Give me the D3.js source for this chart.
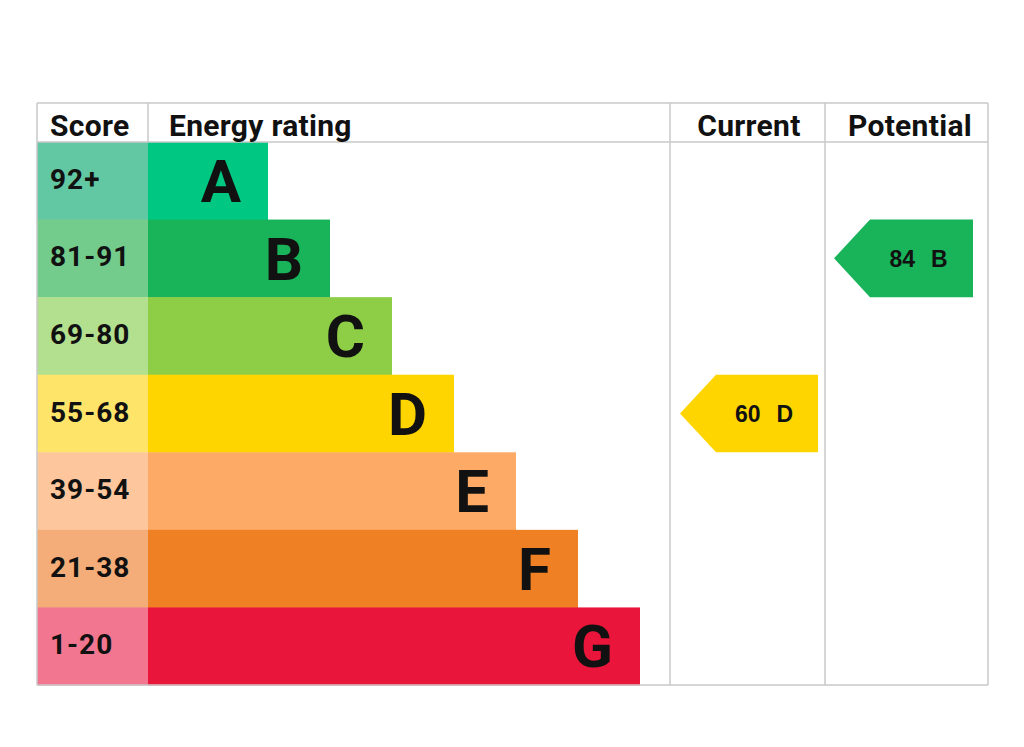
<!DOCTYPE html>
<html>
<head>
<meta charset="utf-8">
<script src="https://cdn.jsdelivr.net/npm/d3@7"></script>
<style>
  body { margin: 0; background: #fff; }
  svg { display: block; font-family: Roboto, "Noto Sans", sans-serif; }
</style>
</head>
<body>
<div id="chart"></div>
<script>
const ratings = ["A", "B", "C", "D", "E", "F", "G"];
const scoreRanges = ["92+", "81-91", "69-80", "55-68", "39-54", "21-38", "1-20"];
const barColors = ["#00c781", "#19b459", "#8dce46", "#ffd500", "#fcaa65", "#ef8023", "#e9153b"];
const scoreColors = ["#62c8a3", "#74cc8c", "#b3e08e", "#ffe46a", "#fdc69d", "#f4ad78", "#f27690"];
const currentRating = { score: 60, band: "D" };
const potentialRating = { score: 84, band: "B" };

const W = 1024, H = 747;
const frame = { left: 37, right: 988, top: 103, header: 142, bottom: 685 };
const cols = { score: 148, current: 670, potential: 825 };

const svg = d3.select("#chart").append("svg")
    .attr("width", W)
    .attr("height", H);

const y = d3.scaleBand()
    .domain(ratings)
    .range([frame.header, frame.bottom]);

// bar end position by band index
const xBar = d3.scaleLinear()
    .domain([0, ratings.length - 1])
    .range([268, 640]);

const rows = ratings.map((r, i) => ({
    band: r, range: scoreRanges[i], color: barColors[i], scoreColor: scoreColors[i], i
}));

// score cells
svg.selectAll(".score-cell").data(rows).enter()
    .append("rect")
    .attr("x", frame.left)
    .attr("y", d => y(d.band))
    .attr("width", cols.score - frame.left)
    .attr("height", y.bandwidth() + 0.5)
    .attr("fill", d => d.scoreColor);

svg.selectAll(".score-label").data(rows).enter()
    .append("text")
    .attr("x", 50)
    .attr("y", d => y(d.band) + y.bandwidth() / 2 + 8)
    .style("font-size", "28px")
    .style("font-weight", "bold")
    .style("letter-spacing", "1px")
    .attr("fill", "#111")
    .text(d => d.range);

// rating bars
svg.selectAll(".bar").data(rows).enter()
    .append("rect")
    .attr("x", cols.score)
    .attr("y", d => y(d.band))
    .attr("width", d => xBar(d.i) - cols.score)
    .attr("height", y.bandwidth() + 0.5)
    .attr("fill", d => d.color);

svg.selectAll(".bar-label").data(rows).enter()
    .append("text")
    .attr("x", d => xBar(d.i) - 27)
    .attr("y", d => y(d.band) + 60)
    .attr("text-anchor", "end")
    .style("font-size", "60px")
    .style("font-weight", "bold")
    .attr("fill", "#111")
    .text(d => d.band);

// grid lines
const lineColor = "#c8c8c8";
const hLine = (yy) => svg.append("line")
    .attr("x1", frame.left).attr("x2", frame.right)
    .attr("y1", yy).attr("y2", yy)
    .attr("stroke", lineColor).attr("stroke-width", 1.5);
const vLine = (xx, y1, y2) => svg.append("line")
    .attr("x1", xx).attr("x2", xx)
    .attr("y1", y1).attr("y2", y2)
    .attr("stroke", lineColor).attr("stroke-width", 1.5);

hLine(frame.top);
hLine(frame.header);
hLine(frame.bottom);
vLine(frame.left, frame.top, frame.bottom);
vLine(cols.score, frame.top, frame.header);
vLine(cols.current, frame.top, frame.bottom);
vLine(cols.potential, frame.top, frame.bottom);
vLine(frame.right, frame.top, frame.bottom);

// headers
const headers = [
    { text: "Score", x: 50, anchor: "start" },
    { text: "Energy rating", x: 169, anchor: "start" },
    { text: "Current", x: 749, anchor: "middle" },
    { text: "Potential", x: 910, anchor: "middle" }
];
svg.selectAll(".header").data(headers).enter()
    .append("text")
    .attr("x", d => d.x)
    .attr("y", 136)
    .attr("text-anchor", d => d.anchor)
    .style("font-size", "30px")
    .style("font-weight", "bold")
    .style("letter-spacing", "0.3px")
    .attr("fill", "#111")
    .text(d => d.text);

// arrows
function bandForScore(s) {
    const mins = [92, 81, 69, 55, 39, 21, 1];
    return ratings[mins.findIndex(m => s >= m)];
}

function drawArrow(rating, left, right, fontSize) {
    const band = bandForScore(rating.score);
    const i = ratings.indexOf(band);
    const top = y(band), h = y.bandwidth();
    const notch = 36;
    const pts = [
        [left, top + h / 2], [left + notch, top], [right, top],
        [right, top + h], [left + notch, top + h]
    ];
    svg.append("path")
        .attr("d", d3.line()(pts) + "Z")
        .attr("fill", barColors[i]);
    const t = svg.append("text")
        .attr("x", left + notch + (right - left - notch) / 2 - 3)
        .attr("y", top + h / 2 + fontSize * 0.36)
        .attr("text-anchor", "middle")
        .style("font-family", "'Liberation Sans', Arial, sans-serif")
        .style("font-size", fontSize + "px")
        .style("font-weight", "bold")
        .attr("fill", "#111");
    t.append("tspan").text(rating.score);
    t.append("tspan").attr("dx", 16).text(rating.band);
}

drawArrow(currentRating, 680, 818, 23);
drawArrow(potentialRating, 834, 973, 23);
</script>
</body>
</html>
